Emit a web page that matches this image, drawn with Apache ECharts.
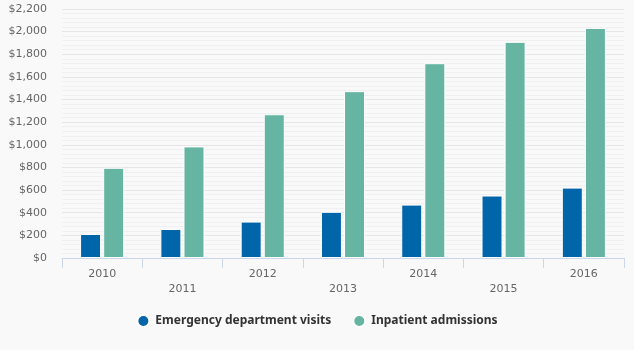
<!DOCTYPE html>
<html><head><meta charset="utf-8">
<script src="https://cdn.jsdelivr.net/npm/echarts@6/dist/echarts.min.js"></script>
<style>html,body{margin:0;padding:0;background:#f9f9f9}#c{width:634px;height:350px}</style>
</head><body><div id="c"></div>
<script>
const categories = ['2010','2011','2012','2013','2014','2015','2016'];
const emergencyVisits = [212, 256, 322, 408, 472, 552, 622];
const inpatientAdmissions = [797, 986, 1270, 1474, 1721, 1910, 2033];
const seriesNames = ['Emergency department visits', 'Inpatient admissions'];

const font = 'DejaVu Sans';
const chart = echarts.init(document.getElementById('c'), null, {renderer:'canvas'});
chart.setOption({
  backgroundColor: '#f9f9f9',
  animation: false,
  grid: {left: 62, right: 10, top: 9, bottom: 92, containLabel: false},
  legend: {
    bottom: 17, left: 'center', itemGap: 21, itemWidth: 12, itemHeight: 12,
    icon: 'circle',
    textStyle: {fontFamily: 'Noto Sans', fontSize: 12, fontWeight: 'bold', color: '#333', padding: [0,0,0,1]},
    data: seriesNames
  },
  xAxis: {
    type: 'category', data: categories,
    axisLine: {show: true, lineStyle: {color: '#ccd6eb'}},
    axisTick: {show: true, length: 10, alignWithLabel: false, lineStyle: {color: '#ccd6eb'}},
    axisLabel: {
      interval: 0, margin: 9, color: '#666', fontFamily: font, fontSize: 11, lineHeight: 15,
      formatter: (v, i) => (i % 2 ? '\n' + v : v)
    }
  },
  yAxis: {
    type: 'value', min: 0, max: 2200, interval: 200,
    axisLabel: {margin: 15, color: '#666', fontFamily: font, fontSize: 11,
      formatter: v => '$' + v.toLocaleString('en-US')},
    axisLine: {show: false}, axisTick: {show: false},
    splitLine: {lineStyle: {color: '#e6e6e6'}},
    minorTick: {show: false, splitNumber: 5},
    minorSplitLine: {show: true, lineStyle: {color: '#f0f0f0'}}
  },
  series: [
    {name: seriesNames[0], type: 'bar', data: emergencyVisits, barWidth: 21, barGap: '10%',
      itemStyle: {color: '#0065a9', borderColor: '#fff', borderWidth: 1}},
    {name: seriesNames[1], type: 'bar', data: inpatientAdmissions, barWidth: 21,
      itemStyle: {color: '#66b4a2', borderColor: '#fff', borderWidth: 1}}
  ]
});
</script></body></html>
